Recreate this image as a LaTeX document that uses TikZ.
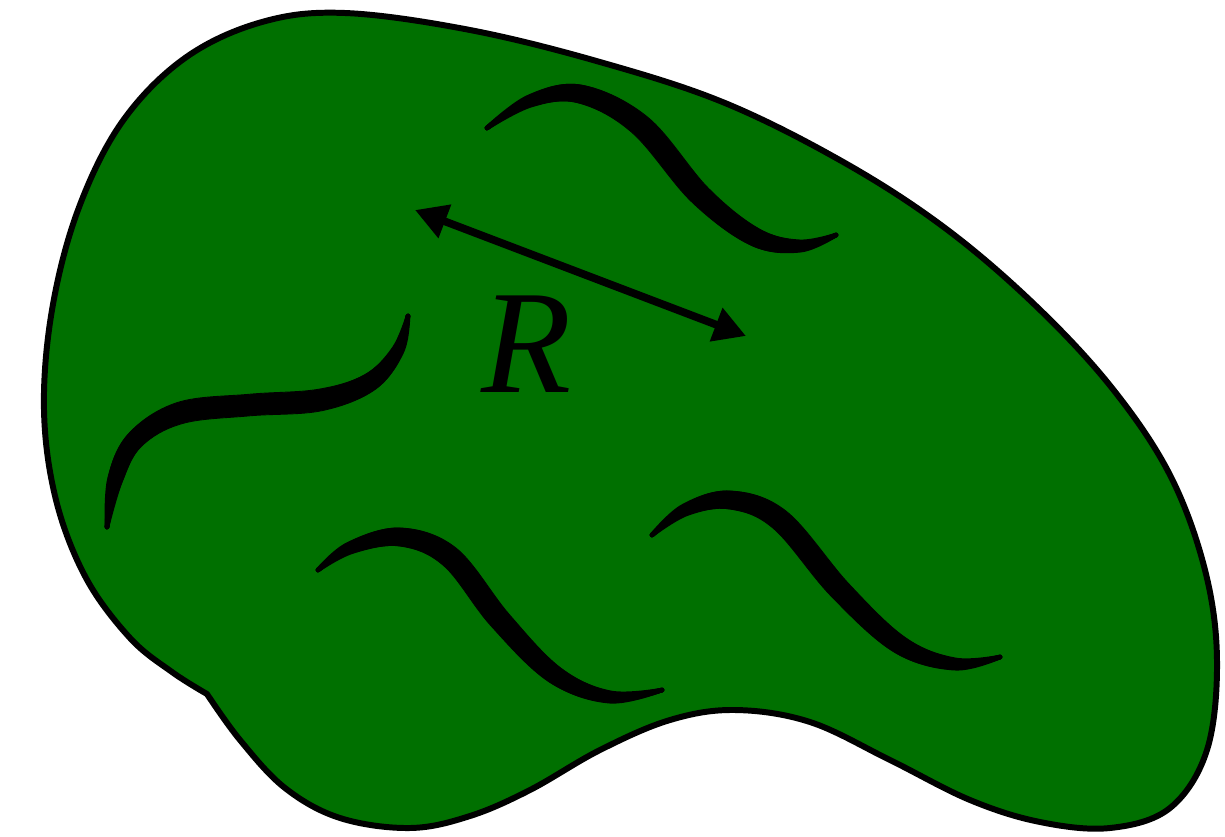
\documentclass[tikz,border=0pt]{standalone}
\usepackage{fontspec}
\usepackage{tikz}
\usetikzlibrary{arrows.meta}
\newfontfamily\serifa{Liberation Serif}
\definecolor{folha}{RGB}{0,112,0}
\tikzset{
  regiao/.style={draw=black, line width=3.4pt, fill=folha, line join=round},
  pincel/.style={draw=black, line width=#1, line cap=round},
  pincel/.default=2pt,
  seta/.style={{Triangle[length=0.64cm,width=0.68cm]}-{Triangle[length=0.64cm,width=0.68cm]}, line width=4.4pt},
}

\begin{document}
\begin{tikzpicture}[x=0.02cm, y=-0.02cm]
  \useasboundingbox (0,0) rectangle (1225,836);

  % a mancha verde
  \draw[regiao] plot[smooth, tension=0.6] coordinates {
    (207,694) (240,740) (285,788) (340,818) (410,828) (470,816) (530,790)
    (600,750) (670,720) (735,710) (810,722) (890,760) (970,800) (1040,822)
    (1110,828) (1170,808) (1207,750) (1217,660) (1205,570) (1170,475)
    (1112,388) (1035,305) (945,228) (845,163) (725,103) (600,62) (470,30)
    (345,13) (262,22) (185,58) (122,122) (78,210) (52,310) (44,410) (56,500)
    (86,578) (130,638) (172,672) (207,694)} -- cycle;

  % pinceladas
  \foreach \k/\w in {-1.8/0.5pt,1.8/0.5pt,-1.4/2.6pt,-0.84/2.6pt,-0.28/2.6pt,0.28/2.6pt,0.84/2.6pt,1.4/2.6pt}{
    \draw[pincel=\w] plot[smooth, tension=0.6] coordinates {(487,128)
      ({530-0.9*(\k)},{101-2.9*(\k)}) ({580+1*(\k)},{94-4.9*(\k)})
      ({640+4.3*(\k)},{125-4.3*(\k)}) ({700+4.4*(\k)},{195-4*(\k)})
      ({755+1.9*(\k)},{237-4.7*(\k)}) ({800-0.3*(\k)},{246-3*(\k)}) (836,235)};
    \draw[pincel=\w] plot[smooth, tension=0.6] coordinates {(408,316)
      ({398+2.8*(\k)},{350+1.1*(\k)}) ({370+3.1*(\k)},{382+3.9*(\k)})
      ({320+1.2*(\k)},{400+5.9*(\k)}) ({250},{405+6*(\k)})
      ({180+1.5*(\k)},{413+5.8*(\k)}) ({135+3.5*(\k)},{440+3.5*(\k)})
      ({115+3.8*(\k)},{480+1.2*(\k)}) (107,527)};
    \draw[pincel=\w] plot[smooth, tension=0.6] coordinates {(318,570)
      ({350-1.5*(\k)},{548-2.6*(\k)}) ({400},{537-5*(\k)})
      ({450+3.4*(\k)},{557-4.9*(\k)}) ({500+5.1*(\k)},{620-3.1*(\k)})
      ({555+3.1*(\k)},{675-3.9*(\k)}) ({610+0.3*(\k)},{697-3*(\k)}) (662,690)};
    \draw[pincel=\w] plot[smooth, tension=0.6] coordinates {(652,535)
      ({685-1.5*(\k)},{510-2.6*(\k)}) ({730},{500-5*(\k)})
      ({780+3.4*(\k)},{520-4.9*(\k)}) ({840+4.9*(\k)},{590-3.4*(\k)})
      ({900+2.9*(\k)},{645-4.1*(\k)}) ({955},{664-3*(\k)}) (1000,657)};
  }

  % distancia R
  \coordinate (esq) at (415,210);
  \coordinate (dir) at (746,336);
  \draw[seta] (esq) -- (dir);
  \node (rotulo) at (527,344) {\serifa\fontsize{84}{86}\selectfont\itshape R};
\end{tikzpicture}
\end{document}
